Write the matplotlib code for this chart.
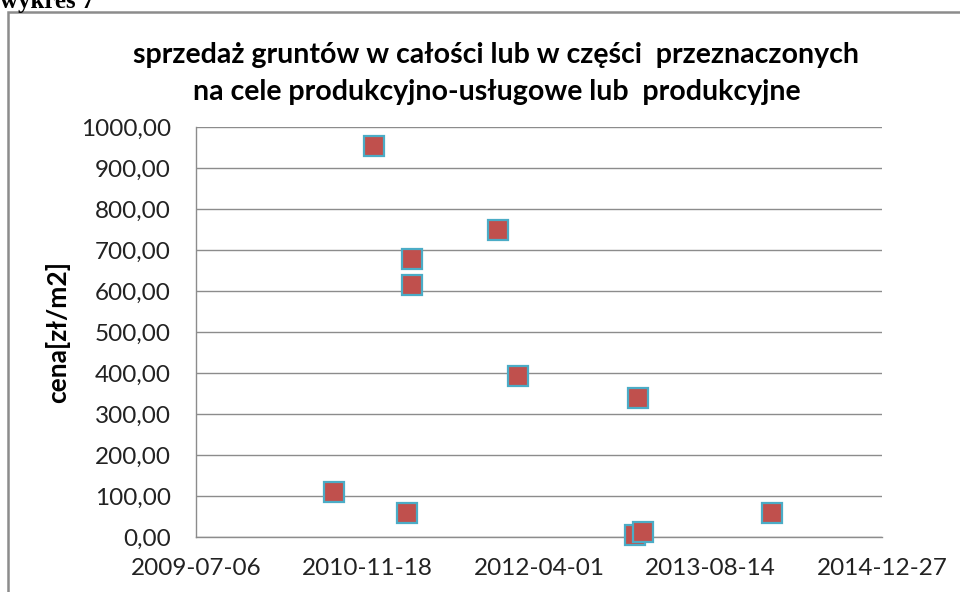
import numpy as np
import matplotlib
matplotlib.use("Agg")
import matplotlib.pyplot as plt
import matplotlib.dates as mdates
from matplotlib.patches import Rectangle

# transaction dates and prices
dates = np.array(['2010-08-12', '2010-12-07', '2011-03-13', '2011-03-28', '2011-03-28',
                  '2011-12-03', '2012-01-31', '2013-01-15', '2013-01-06', '2013-01-29',
                  '2014-02-09'], dtype='datetime64[D]')
prices = [110, 953, 58, 677, 614, 750, 393, 340, 5, 12, 58]

tick_dates = np.array(['2009-07-06', '2010-11-18', '2012-04-01', '2013-08-14', '2014-12-27'],
                      dtype='datetime64[D]')
y_ticks = [0, 100, 200, 300, 400, 500, 600, 700, 800, 900, 1000]

title1 = "sprzedaż gruntów w całości lub w części  przeznaczonych"
title2 = "na cele produkcyjno-usługowe lub  produkcyjne"

plt.rcParams['font.family'] = ['Lato', 'DejaVu Sans']

fig = plt.figure(figsize=(9.6, 5.92), dpi=100)
ax = fig.add_axes([196 / 960, 55 / 592, 686 / 960, 410 / 592])

x = mdates.date2num(dates.astype('datetime64[s]').astype(object))
ax.plot(x, prices, linestyle='none', marker='s', markersize=14.5,
        markerfacecolor='#C0504D', markeredgecolor='#4BACC6', markeredgewidth=1.6,
        zorder=3, clip_on=False)

xt = mdates.date2num(tick_dates.astype('datetime64[s]').astype(object))
ax.set_xlim(xt[0], xt[-1])
ax.set_xticks(xt)
ax.xaxis.set_major_formatter(mdates.DateFormatter('%Y-%m-%d'))
ax.set_ylim(0, 1000)
ax.set_yticks(y_ticks)
ax.set_yticklabels([f"{v:.2f}".replace('.', ',') for v in y_ticks])

ax.tick_params(axis='both', length=0, labelsize=17.5, colors='#222222')
ax.tick_params(axis='y', pad=18)
ax.tick_params(axis='x', pad=15)
ax.grid(axis='y', color='#8c8c8c', linewidth=1)
ax.set_axisbelow(True)
for s in ['top', 'right']:
    ax.spines[s].set_visible(False)
for s in ['left', 'bottom']:
    ax.spines[s].set_color('#8c8c8c')
    ax.spines[s].set_linewidth(1)

ax.set_ylabel('cena[zł/m2]', fontsize=19, fontweight='bold')
ax.yaxis.set_label_coords(-0.183, 0.5)

fig.text(496 / 960, 1 - 55 / 592, title1, ha='center', va='center', fontsize=20.5, fontweight='bold')
fig.text(497 / 960, 1 - 92 / 592, title2, ha='center', va='center', fontsize=20.5, fontweight='bold')

# chart frame and caption above it
fig.patches.append(Rectangle((8 / 960, -0.05), 1.0, 1 - 12 / 592 + 0.05, transform=fig.transFigure,
                             fill=False, edgecolor='#8c8c8c', linewidth=1.8))
fig.text(0.0, 1 - 8 / 592, 'wykres 7', fontsize=18, fontweight='bold',
         family='Liberation Serif', va='baseline', ha='left')

fig.savefig('out.png', dpi=100)
